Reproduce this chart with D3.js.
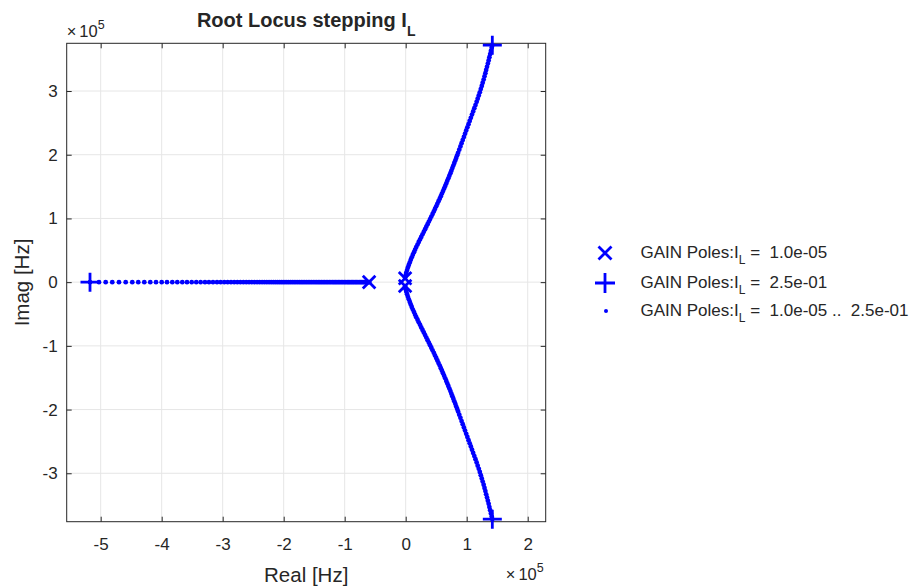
<!DOCTYPE html>
<html>
<head>
<meta charset="utf-8">
<script src="https://cdn.jsdelivr.net/npm/d3@7"></script>
<style>
  body { margin: 0; background: #ffffff; }
  text { font-family: "Liberation Sans", Arial, Helvetica, sans-serif; fill: #262626; }
</style>
</head>
<body>
<svg id="chart" width="921" height="588"></svg>
<script>
// Axis ticks (values in units of 1e5 Hz)
const xTicks = [-5, -4, -3, -2, -1, 0, 1, 2];
const yTicks = [-3, -2, -1, 0, 1, 2, 3];

// Poles at the first step, I_L = 1.0e-05  [re, im] x1e5 Hz
const startPoles = [[-0.60, 0], [-0.01, 0.06], [-0.01, -0.06]];
// Poles at the last step, I_L = 2.5e-01
const endPoles = [[-5.175, 0], [1.42, 3.72], [1.42, -3.72]];

// Real-axis pole over the sweep (re, x1e5 Hz), from I_L = 2.5e-01 back to 1.0e-05
const realAxisPoles = [
  -5.175, -5.028, -4.918, -4.810, -4.700, -4.590, -4.482, -4.384, -4.285, -4.187,
  -4.093, -4.000, -3.913, -3.826, -3.744, -3.662, -3.585, -3.508, -3.433, -3.361,
  -3.290, -3.225, -3.159, -3.093, -3.033, -2.974, -2.918, -2.864, -2.811, -2.760,
  -2.710, -2.661, -2.614, -2.568, -2.523, -2.479, -2.436, -2.394, -2.354, -2.315,
  -2.277, -2.240, -2.204, -2.169, -2.135, -2.102, -2.070, -2.039, -2.009, -1.979,
  -1.949, -1.919, -1.889, -1.859, -1.829, -1.799, -1.769, -1.739, -1.711, -1.683,
  -1.655, -1.627, -1.599, -1.571, -1.543, -1.515, -1.487, -1.459, -1.433, -1.407,
  -1.381, -1.355, -1.329, -1.303, -1.277, -1.251, -1.225, -1.199, -1.175, -1.151,
  -1.127, -1.103, -1.079, -1.055, -1.031, -1.007, -0.983, -0.959, -0.937, -0.915,
  -0.893, -0.871, -0.849, -0.827, -0.805, -0.783, -0.761, -0.739, -0.719, -0.699,
  -0.679, -0.659, -0.639, -0.619, -0.600
];

// Upper complex branch over the sweep [re, im] x1e5 Hz, from I_L = 1.0e-05 to 2.5e-01.
// The lower branch is its complex conjugate.
const branchPoles = [
  [-0.010, 0.07], [0.000, 0.11], [0.010, 0.15], [0.023, 0.19], [0.036, 0.23],
  [0.051, 0.27], [0.067, 0.31], [0.083, 0.35], [0.099, 0.39], [0.117, 0.43],
  [0.136, 0.47], [0.154, 0.51], [0.173, 0.55], [0.194, 0.59], [0.214, 0.63],
  [0.235, 0.67], [0.255, 0.71], [0.276, 0.75], [0.297, 0.79], [0.318, 0.83],
  [0.338, 0.87], [0.359, 0.91], [0.380, 0.95], [0.400, 0.99], [0.420, 1.03],
  [0.441, 1.07], [0.461, 1.11], [0.480, 1.15], [0.500, 1.19], [0.519, 1.23],
  [0.538, 1.27], [0.558, 1.31], [0.576, 1.35], [0.594, 1.39], [0.612, 1.43],
  [0.630, 1.47], [0.648, 1.51], [0.665, 1.55], [0.682, 1.59], [0.699, 1.63],
  [0.716, 1.67], [0.733, 1.71], [0.749, 1.75], [0.765, 1.79], [0.781, 1.83],
  [0.797, 1.87], [0.813, 1.91], [0.828, 1.95], [0.844, 1.99], [0.859, 2.03],
  [0.878, 2.08], [0.897, 2.13], [0.916, 2.18], [0.935, 2.23], [0.954, 2.28],
  [0.973, 2.33], [0.992, 2.38], [1.011, 2.43], [1.030, 2.48], [1.049, 2.53],
  [1.068, 2.58], [1.087, 2.63], [1.106, 2.68], [1.125, 2.73], [1.144, 2.78],
  [1.163, 2.83], [1.180, 2.88], [1.198, 2.93], [1.215, 2.98], [1.231, 3.03],
  [1.247, 3.08], [1.262, 3.13], [1.278, 3.18], [1.292, 3.23], [1.306, 3.28],
  [1.319, 3.33], [1.333, 3.38], [1.347, 3.43], [1.360, 3.48], [1.372, 3.53],
  [1.385, 3.58], [1.397, 3.63], [1.410, 3.68], [1.420, 3.72]
];

// Legend entries: marker kind and the value text after "GAIN Poles:I_L"
const legendKinds = ["x", "+", "dot"];
const legendValues = ["1.0e-05", "2.5e-01", "1.0e-05 ..  2.5e-01"];

const blue = "#0000ff";
const axisColor = "#262626";
const gridColor = "#e6e6e6";
const fontFamily = '"Liberation Sans", Arial, Helvetica, sans-serif';

const svg = d3.select("#chart");
const box = { left: 66.7, right: 545.7, top: 43.3, bottom: 521.7 };

const x = d3.scaleLinear().domain([-5.557, 2.295]).range([box.left, box.right]);
const y = d3.scaleLinear().domain([-3.76, 3.749]).range([box.bottom, box.top]);

// grid
const grid = svg.append("g");
grid.selectAll("line.gx").data(xTicks).join("line")
  .attr("x1", d => x(d)).attr("x2", d => x(d))
  .attr("y1", box.top).attr("y2", box.bottom)
  .attr("stroke", gridColor).attr("stroke-width", 1);
grid.selectAll("line.gy").data(yTicks).join("line")
  .attr("y1", d => y(d)).attr("y2", d => y(d))
  .attr("x1", box.left).attr("x2", box.right)
  .attr("stroke", gridColor).attr("stroke-width", 1);

// axes with inward ticks on all four sides
const tickLen = 5;
const tickText = d => String(d);
function styleAxis(g) {
  g.select(".domain").remove();
  g.selectAll(".tick line").attr("stroke", axisColor);
  g.selectAll(".tick text").attr("fill", axisColor)
    .style("font-size", "17px").style("font-family", fontFamily);
}
svg.append("g").attr("transform", `translate(0,${box.bottom})`)
  .call(d3.axisBottom(x).tickValues(xTicks).tickFormat(tickText)
    .tickSizeInner(-tickLen).tickSizeOuter(0).tickPadding(16.5))
  .call(styleAxis);
svg.append("g").attr("transform", `translate(0,${box.top})`)
  .call(d3.axisTop(x).tickValues(xTicks).tickFormat("")
    .tickSizeInner(-tickLen).tickSizeOuter(0))
  .call(styleAxis);
svg.append("g").attr("transform", `translate(${box.left},0)`)
  .call(d3.axisLeft(y).tickValues(yTicks).tickFormat(tickText)
    .tickSizeInner(-tickLen).tickSizeOuter(0).tickPadding(9))
  .call(styleAxis);
svg.append("g").attr("transform", `translate(${box.right},0)`)
  .call(d3.axisRight(y).tickValues(yTicks).tickFormat("")
    .tickSizeInner(-tickLen).tickSizeOuter(0))
  .call(styleAxis);

svg.append("rect")
  .attr("x", box.left).attr("y", box.top)
  .attr("width", box.right - box.left).attr("height", box.bottom - box.top)
  .attr("fill", "none").attr("stroke", axisColor).attr("stroke-width", 1);

// marker shapes
const xMark = s => `M${-s},${-s}L${s},${s}M${-s},${s}L${s},${-s}`;
const plusMark = s => `M${-s},0L${s},0M0,${-s}L0,${s}`;

const plot = svg.append("g");
plot.selectAll("path.start").data(startPoles).join("path")
  .attr("class", "start")
  .attr("d", xMark(6.3))
  .attr("transform", d => `translate(${x(d[0])},${y(d[1])})`)
  .attr("stroke", blue).attr("stroke-width", 2.8).attr("fill", "none");
plot.selectAll("path.end").data(endPoles).join("path")
  .attr("class", "end")
  .attr("d", plusMark(9.5))
  .attr("transform", d => `translate(${x(d[0])},${y(d[1])})`)
  .attr("stroke", blue).attr("stroke-width", 2.8).attr("fill", "none");

const sweep = realAxisPoles.map(re => [re, 0])
  .concat(branchPoles)
  .concat(branchPoles.map(([re, im]) => [re, -im]));
plot.selectAll("circle.sweep").data(sweep).join("circle")
  .attr("class", "sweep")
  .attr("cx", d => x(d[0])).attr("cy", d => y(d[1]))
  .attr("r", 2.4).attr("fill", blue);

// exponent labels
function exponent(xPos, yPos, anchor) {
  const t = svg.append("text").attr("x", xPos).attr("y", yPos)
    .attr("text-anchor", anchor).style("font-size", "16.5px");
  t.append("tspan").style("font-weight", "300").text("\u00d7");
  t.append("tspan").attr("dx", 3).text("10");
  t.append("tspan").attr("dy", -8).style("font-size", "12.5px").text("5");
}
exponent(box.left, 37, "start");
exponent(box.right - 2, 580, "end");

// title
const title = svg.append("text")
  .attr("x", (box.left + box.right) / 2).attr("y", 26.5)
  .attr("text-anchor", "middle")
  .style("font-size", "20px").style("font-weight", "bold");
title.append("tspan").text("Root Locus stepping I");
title.append("tspan").attr("dy", 9).style("font-size", "14px").text("L");

// axis labels
svg.append("text")
  .attr("x", (box.left + box.right) / 2).attr("y", 582)
  .attr("text-anchor", "middle").style("font-size", "20.5px")
  .text("Real [Hz]");
svg.append("text")
  .attr("transform", `translate(29,${(box.top + box.bottom) / 2}) rotate(-90)`)
  .attr("text-anchor", "middle").style("font-size", "20.5px")
  .text("Imag [Hz]");

// legend
const legend = svg.append("g");
const rowY = [253, 283, 311];
legendKinds.forEach((kind, i) => {
  const cx = 605, cy = rowY[i];
  if (kind === "x") {
    legend.append("path").attr("d", xMark(6.5))
      .attr("transform", `translate(${cx},${cy})`)
      .attr("stroke", blue).attr("stroke-width", 2.8).attr("fill", "none");
  } else if (kind === "+") {
    legend.append("path").attr("d", plusMark(10))
      .attr("transform", `translate(${cx},${cy})`)
      .attr("stroke", blue).attr("stroke-width", 2.8).attr("fill", "none");
  } else {
    legend.append("circle").attr("cx", cx + 1).attr("cy", cy).attr("r", 2).attr("fill", blue);
  }
  const t = legend.append("text").attr("x", 640.5).attr("y", cy + 5)
    .style("font-size", "17px").style("white-space", "pre");
  t.append("tspan").text("GAIN Poles:I");
  t.append("tspan").attr("dy", 6).style("font-size", "12px").text("L");
  t.append("tspan").attr("dy", -6).text(" =  " + legendValues[i]);
});
</script>
</body>
</html>
